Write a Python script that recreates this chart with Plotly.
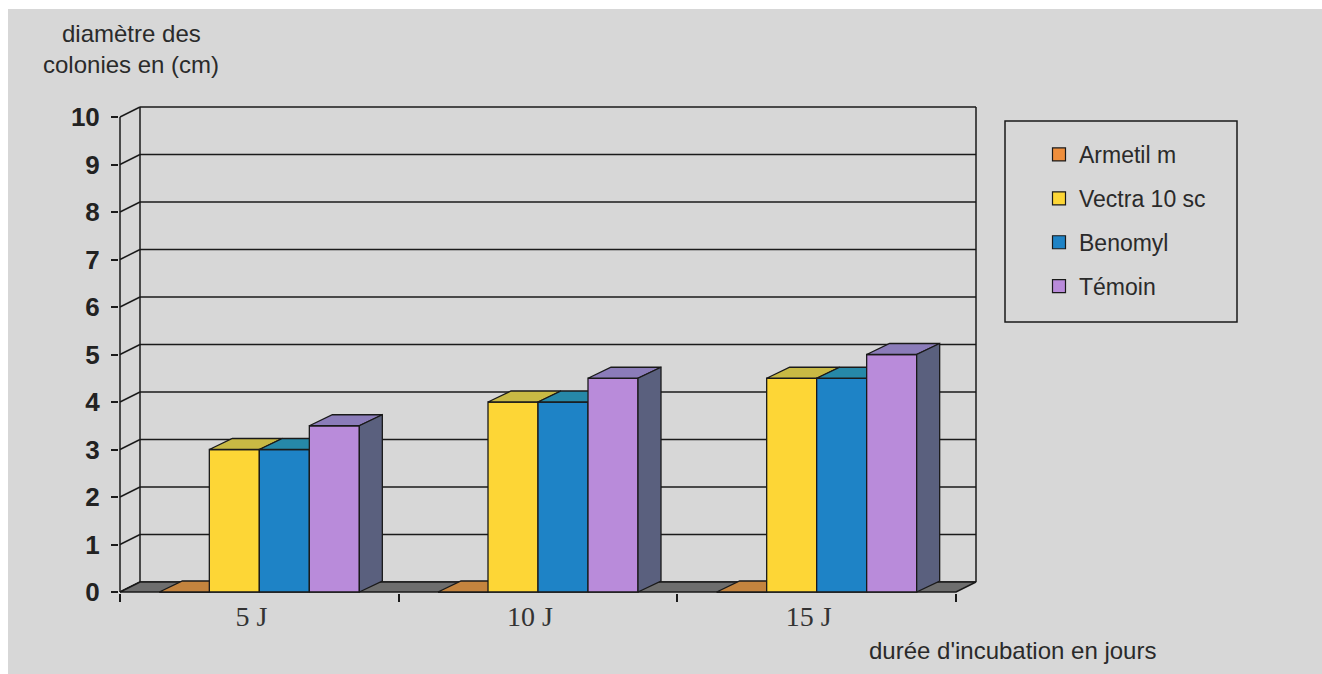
import plotly.graph_objects as go

# ---------------- data ----------------
categories = ["5 J", "10 J", "15 J"]
series_names = ["Armetil m", "Vectra 10 sc", "Benomyl", "Témoin"]
armetil = [0, 0, 0]
vectra = [3, 4, 4.5]
benomyl = [3, 4, 4.5]
temoin = [3.5, 4.5, 5]
y_ticks = list(range(0, 11))

series_values = [armetil, vectra, benomyl, temoin]
front_colors = ["#EE8E3C", "#FDD636", "#1E83C6", "#B98BDA"]
top_colors = ["#C4843E", "#C8B944", "#2688A8", "#8B7CB9"]
side_color = "#5A607E"
bg = "#D7D7D7"
ink = "#1A1A1A"
txt = "#2A2A2A"

# ---------------- geometry (pixels) ----------------
W, H = 1322, 674
PL, PR, PT, PB = 119, 980, 105, 593       # plot area in px
X0PX, X3PX, Y0PX = 120, 956, 592            # front axis frame
SX = (X3PX - X0PX) / 3.0                    # px per category
SY = 47.5                                   # px per cm
DXu, DYu = 20 / SX, 10 / SY                 # wall depth in data units
BDXu, BDYu = 23 / SX, 11 / SY               # bar depth in data units
BW = 50 / SX                                # bar width in data units
NS = len(series_names)

xr = [-0.5 - (X0PX - PL) / SX, -0.5 + (PR - X0PX) / SX]
yr = [-(PB - Y0PX) / SY, (Y0PX - PT) / SY]


def pxx(px):
    return (px - PL) / (PR - PL)


def pxy(py):
    return (PB - py) / (PB - PT)


fig = go.Figure()

# floor slab
xa, xb = -0.5, len(categories) - 0.5
fig.add_trace(go.Scatter(
    x=[xa, xb, xb + DXu, xa + DXu, xa], y=[0, 0, DYu, DYu, 0],
    mode="lines", fill="toself", fillcolor="#6E6E6E",
    line=dict(color=ink, width=1.5), hoverinfo="skip", showlegend=False))

# bars drawn as 3D blocks, series by series (painter's order)
for s in range(NS):
    vals = series_values[s]
    fx, fy, tx, ty, sx_, sy_ = [], [], [], [], [], []
    for c, v in enumerate(vals):
        x0 = c - NS * BW / 2 + s * BW
        x1 = x0 + BW
        fx += [x0, x1, x1, x0, x0, None]
        fy += [0, 0, v, v, 0, None]
        tx += [x0, x1, x1 + BDXu, x0 + BDXu, x0, None]
        ty += [v, v, v + BDYu, v + BDYu, v, None]
        sx_ += [x1, x1 + BDXu, x1 + BDXu, x1, x1, None]
        sy_ += [0, BDYu, v + BDYu, v, 0, None]
    fig.add_trace(go.Scatter(x=fx, y=fy, mode="lines", fill="toself",
                             fillcolor=front_colors[s], line=dict(color=ink, width=1.3),
                             hoverinfo="skip", showlegend=False))
    fig.add_trace(go.Scatter(x=tx, y=ty, mode="lines", fill="toself",
                             fillcolor=top_colors[s], line=dict(color=ink, width=1.3),
                             hoverinfo="skip", showlegend=False))
    if s == NS - 1:
        fig.add_trace(go.Scatter(x=sx_, y=sy_, mode="lines", fill="toself",
                                 fillcolor=side_color, line=dict(color=ink, width=1.3),
                                 hoverinfo="skip", showlegend=False))

# legend entries
for s in range(NS):
    fig.add_trace(go.Scatter(
        x=[None], y=[None], mode="markers", name=series_names[s],
        legendgroup=f"g{s}",
        marker=dict(symbol="square", size=13, color=front_colors[s],
                    line=dict(color=ink, width=1.2))))

# walls & gridlines
shapes = []
ymax = y_ticks[-1]
for v in y_ticks:
    shapes.append(dict(type="line", xref="x", yref="y", x0=xa, y0=v,
                       x1=xa + DXu, y1=v + DYu, line=dict(color=ink, width=1.5), layer="below"))
    shapes.append(dict(type="line", xref="x", yref="y", x0=xa + DXu, y0=v + DYu,
                       x1=xb + DXu, y1=v + DYu, line=dict(color=ink, width=1.5), layer="below"))
shapes.append(dict(type="line", xref="x", yref="y", x0=xa + DXu, y0=DYu,
                   x1=xa + DXu, y1=ymax + DYu, line=dict(color=ink, width=1.5), layer="below"))
shapes.append(dict(type="line", xref="x", yref="y", x0=xb + DXu, y0=DYu,
                   x1=xb + DXu, y1=ymax + DYu, line=dict(color=ink, width=1.5), layer="below"))
shapes.append(dict(type="line", xref="x", yref="y", x0=xa, y0=0,
                   x1=xa, y1=ymax, line=dict(color=ink, width=1.5), layer="above"))
# page background with scanned white edge
shapes.insert(0, dict(type="rect", xref="paper", yref="paper",
                      x0=pxx(8), x1=pxx(W), y0=pxy(H), y1=pxy(9),
                      fillcolor=bg, line=dict(width=0), layer="below"))
# legend frame
shapes.append(dict(type="rect", xref="paper", yref="paper",
                   x0=pxx(1005), x1=pxx(1237), y0=pxy(322), y1=pxy(121),
                   line=dict(color=ink, width=1.5), fillcolor="rgba(0,0,0,0)", layer="above"))

afont = dict(family="Liberation Sans, Arial", size=24, color=txt)
annotations = [
    dict(text="diamètre des", x=pxx(131), y=pxy(33), xref="paper", yref="paper",
         xanchor="center", yanchor="middle", showarrow=False, font=afont),
    dict(text="colonies en (cm)", x=pxx(131), y=pxy(65), xref="paper", yref="paper",
         xanchor="center", yanchor="middle", showarrow=False, font=afont),
    dict(text="durée d'incubation en jours", x=pxx(1013), y=pxy(650), xref="paper", yref="paper",
         xanchor="center", yanchor="middle", showarrow=False, font=afont),
]

fig.update_layout(
    width=W, height=H,
    margin=dict(l=PL, r=W - PR, t=PT, b=H - PB, autoexpand=False),
    paper_bgcolor="white", plot_bgcolor=bg,
    shapes=shapes, annotations=annotations,
    showlegend=True,
    legend=dict(x=pxx(1039), y=pxy(133), xanchor="left", yanchor="top",
                bgcolor="rgba(0,0,0,0)", borderwidth=0, tracegroupgap=11,
                font=dict(family="Liberation Sans, Arial", size=23, color=txt)),
    xaxis=dict(range=xr, tickvals=list(range(len(categories))), ticktext=categories,
               ticks="", showgrid=False, zeroline=False, showline=False,
               tickfont=dict(family="Liberation Serif, Times New Roman", size=28, color="#333333"),
               ticklabelshift=-8, ticklabelstandoff=4,
               minor=dict(tickvals=[i - 0.5 for i in range(len(categories) + 1)],
                          ticks="outside", ticklen=8, tickwidth=1.5, tickcolor=ink)),
    yaxis=dict(range=yr, tickvals=y_ticks, ticks="outside", ticklen=7, tickwidth=1.5,
               tickcolor=ink, showgrid=False, zeroline=False, showline=False,
               ticklabelstandoff=6,
               tickfont=dict(family="Liberation Sans, Arial", size=26, color="#222222",
                             weight="bold")),
)

fig.write_html("out.html")
